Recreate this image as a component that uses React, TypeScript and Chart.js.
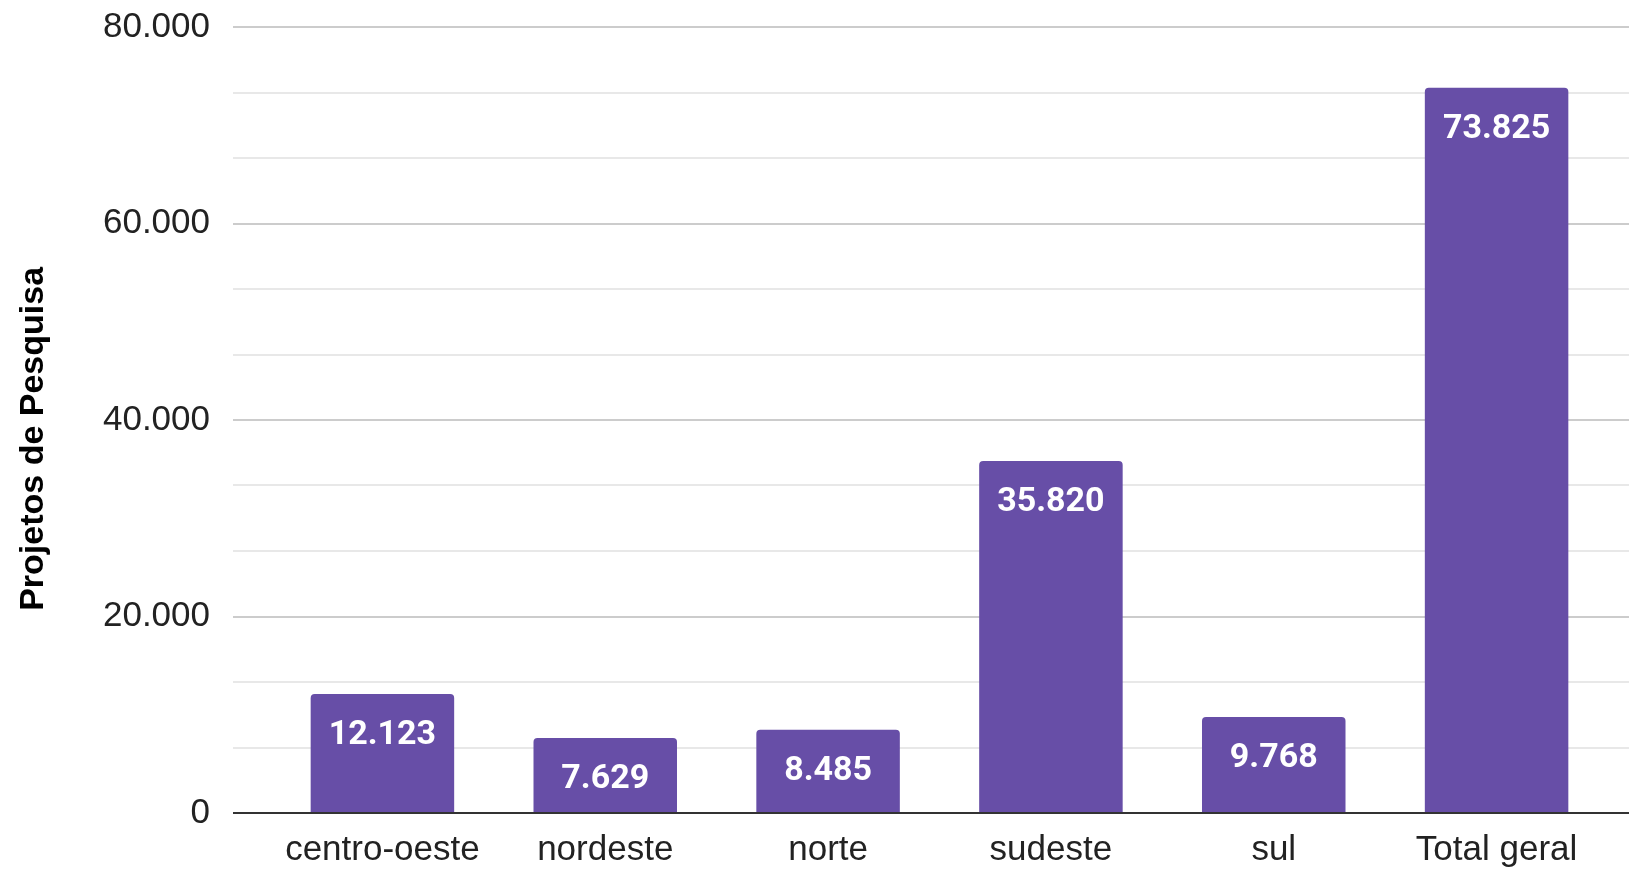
import React, { useEffect, useRef } from "react";
import { Chart, registerables } from "chart.js";

Chart.register(...registerables);

const CATEGORIES = ["centro-oeste", "nordeste", "norte", "sudeste", "sul", "Total geral"];
const PROJETOS = [12123, 7629, 8485, 35820, 9768, 73825];
const MAJOR_TICKS = [0, 20000, 40000, 60000, 80000];
const MINOR_DIVISIONS = 3;
const Y_TITLE = "Projetos de Pesquisa";

const CANVAS_W = 1700;
const CANVAS_H = 869;
const AREA_LEFT = 271;
const AREA_RIGHT = 1608;

const fmt = (v: number) =>
  Math.round(v)
    .toString()
    .replace(/\B(?=(\d{3})+(?!\d))/g, ".");

const isMajor = (v: number) => MAJOR_TICKS.some((m) => Math.abs(m - v) < 1);

const buildTicks = () => {
  const t: { value: number }[] = [];
  for (let i = 0; i < MAJOR_TICKS.length - 1; i++) {
    const a = MAJOR_TICKS[i];
    const b = MAJOR_TICKS[i + 1];
    for (let k = 0; k < MINOR_DIVISIONS; k++) {
      t.push({ value: a + ((b - a) * k) / MINOR_DIVISIONS });
    }
  }
  t.push({ value: MAJOR_TICKS[MAJOR_TICKS.length - 1] });
  return t;
};

const gridColor = (ctx: any) => {
  const v = ctx.tick ? ctx.tick.value : 1;
  if (Math.abs(v) < 1) return "#333333";
  return isMajor(v) ? "#cccccc" : "#e8e8e8";
};

const dataLabelPlugin = {
  id: "dataLabels",
  afterDatasetsDraw(chart: any) {
    const ctx = chart.ctx;
    const meta = chart.getDatasetMeta(0);
    ctx.save();
    ctx.font = "bold 34px Roboto, 'Liberation Sans', sans-serif";
    ctx.fillStyle = "#ffffff";
    ctx.textAlign = "center";
    ctx.textBaseline = "alphabetic";
    meta.data.forEach((bar: any, i: number) => {
      const p = bar.getProps(["x", "y"], true);
      ctx.fillText(fmt(PROJETOS[i]), p.x, p.y + 50);
    });
    ctx.restore();
  },
};

const zeroPad = (s: any) => {
  s.paddingTop = 0;
  s.paddingBottom = 0;
};

export default function App() {
  const ref = useRef<HTMLCanvasElement | null>(null);

  useEffect(() => {
    if (!ref.current) return;
    const chart = new Chart(ref.current, {
      type: "bar",
      data: {
        labels: CATEGORIES,
        datasets: [
          {
            label: Y_TITLE,
            data: PROJETOS,
            backgroundColor: "#674ea7",
            borderRadius: { topLeft: 4, topRight: 4, bottomLeft: 0, bottomRight: 0 },
            borderSkipped: "bottom",
            categoryPercentage: 1,
            barPercentage: 0.644,
          },
        ],
      },
      options: {
        responsive: false,
        animation: false,
        devicePixelRatio: 1,
        layout: { padding: { top: 27, left: 0, right: 0, bottom: 0 } },
        plugins: {
          legend: { display: false },
          tooltip: { enabled: false },
        },
        scales: {
          x: {
            z: 1,
            grid: { display: false, drawTicks: false },
            border: { display: true, color: "#333333", width: 2 },
            ticks: {
              padding: 16,
              color: "#222222",
              font: { family: "'Liberation Sans', Arial, sans-serif", size: 35 },
              maxRotation: 0,
              autoSkip: false,
            },
            afterFit: (s: any) => {
              s.height = 56;
              s.paddingLeft = 0;
              s.paddingRight = 0;
            },
          },
          y: {
            position: "left",
            min: 0,
            max: 80000,
            afterBuildTicks: (s: any) => {
              s.ticks = buildTicks();
            },
            grid: {
              color: gridColor,
              lineWidth: 2,
              drawTicks: true,
              tickLength: 38,
            },
            border: { display: false },
            ticks: {
              padding: 23,
              color: "#222222",
              font: { family: "'Liberation Sans', Arial, sans-serif", size: 35 },
              callback: (v: any) => (isMajor(Number(v)) ? fmt(Number(v)) : ""),
              autoSkip: false,
            },
            title: {
              display: true,
              text: Y_TITLE + "\u00A0\u00A0\u00A0\u00A0",
              color: "#000000",
              padding: { top: 13, bottom: 0 },
              font: { family: "'Liberation Sans', Arial, sans-serif", size: 34, weight: "bold" },
            },
            afterFit: (s: any) => {
              s.width = AREA_LEFT;
              zeroPad(s);
            },
          },
          y2: {
            position: "right",
            min: 0,
            max: 80000,
            afterBuildTicks: (s: any) => {
              s.ticks = buildTicks();
            },
            grid: {
              color: gridColor,
              lineWidth: 2,
              drawOnChartArea: false,
              drawTicks: true,
              tickLength: 100,
            },
            border: { display: false },
            ticks: { display: false },
            afterFit: (s: any) => {
              s.width = CANVAS_W - AREA_RIGHT;
              zeroPad(s);
            },
          },
        },
      },
      plugins: [dataLabelPlugin],
    } as any);
    return () => chart.destroy();
  }, []);

  return (
    <div
      style={{
        position: "fixed",
        left: 0,
        top: 0,
        width: 1629,
        height: 869,
        overflow: "hidden",
        background: "#ffffff",
      }}
    >
      <canvas ref={ref} width={CANVAS_W} height={CANVAS_H} style={{ display: "block" }} />
    </div>
  );
}
